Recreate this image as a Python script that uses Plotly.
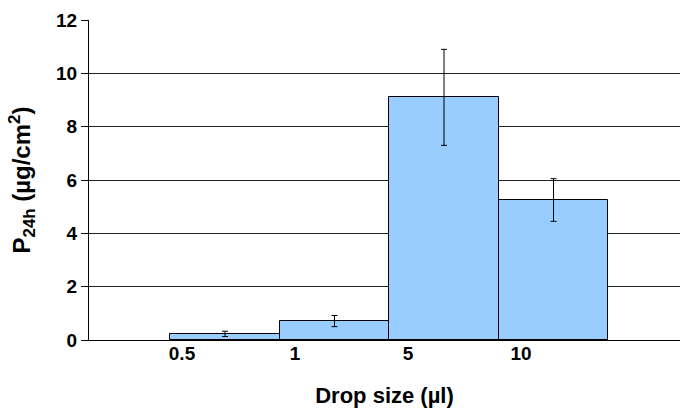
import plotly.graph_objects as go

categories = ["0.5", "1", "5", "10"]
means = [0.23, 0.71, 9.1, 5.25]
errors = [0.1, 0.21, 1.8, 0.8]
y_ticks = [0, 2, 4, 6, 8, 10, 12]

FONT = "Liberation Sans, Arial, sans-serif"

fig = go.Figure()
fig.add_trace(go.Bar(
    x=categories, y=means, width=1,
    marker=dict(color="#99CCFF", line=dict(color="#000000", width=1)),
    error_y=dict(type="data", array=errors, visible=True,
                 color="#000000", thickness=1, width=3),
    xaxis="x", yaxis="y", showlegend=False, hoverinfo="skip",
))
# invisible trace that carries the category tick labels
fig.add_trace(go.Scatter(
    x=categories, y=means, mode="markers", marker=dict(opacity=0),
    xaxis="x2", yaxis="y", showlegend=False, hoverinfo="skip",
))

fig.update_layout(
    width=680, height=416,
    margin=dict(l=89, r=0, t=20, b=76),
    paper_bgcolor="white", plot_bgcolor="white",
    font=dict(family=FONT, size=19, color="#000000", weight="bold"),
    bargap=0,
    xaxis=dict(
        type="category", range=[-1.242, 4.155],
        showticklabels=False, ticks="", showgrid=False,
        showline=True, linecolor="#000000", linewidth=1,
        zeroline=False,
    ),
    xaxis2=dict(
        type="category", overlaying="x", anchor="y", side="bottom",
        range=[-0.823, 4.407], showgrid=False, showline=False, ticks="",
        tickfont=dict(family=FONT, size=19, weight="bold"),
        title=dict(text="Drop size (µl)", standoff=24,
                   font=dict(family=FONT, size=22, weight="bold")),
    ),
    yaxis=dict(
        range=[0, 12], tickvals=y_ticks, ticktext=[str(v) for v in y_ticks],
        showgrid=True, gridcolor="#222222", gridwidth=1,
        showline=True, linecolor="#000000", linewidth=1,
        ticks="outside", ticklen=7, tickcolor="#000000",
        tickfont=dict(family=FONT, size=19, weight="bold"),
        zeroline=False,
        title=dict(text="P<sub>24h</sub> (µg/cm<sup>2</sup>)", standoff=18,
                   font=dict(family=FONT, size=24, weight="bold")),
    ),
)

fig.write_html("out.html")
